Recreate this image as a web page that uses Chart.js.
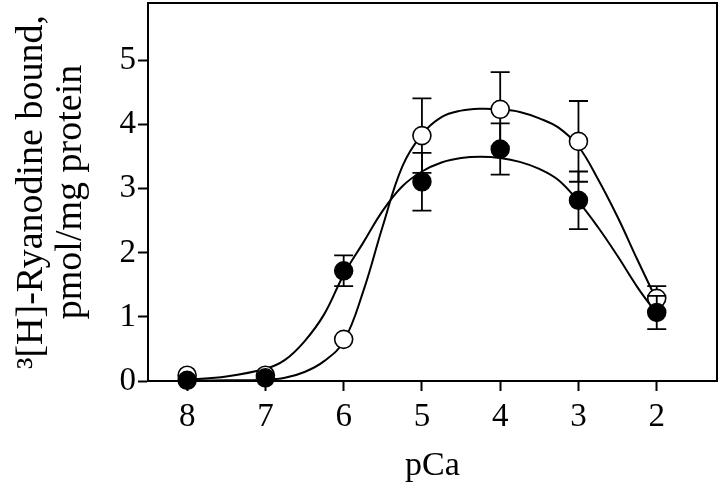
<!DOCTYPE html>
<html><head><meta charset="utf-8">
<script src="https://cdn.jsdelivr.net/npm/chart.js@4"></script>
<style>html,body{margin:0;padding:0;background:#fff}</style>
</head><body>
<canvas id="c" width="720" height="484"></canvas>
<script>
// ---- data ----
const xTickValues = [8, 7, 6, 5, 4, 3, 2];
const yTickValues = [0, 1, 2, 3, 4, 5];
const pCa = [8, 7, 6, 5, 4, 3, 2];
const openMean = [0.09, 0.09, 0.65, 3.83, 4.24, 3.74, 1.29];
const openErr = [0, 0, 0, 0.58, 0.58, 0.63, 0.19];
const filledMean = [0.01, 0.05, 1.72, 3.11, 3.62, 2.82, 1.07];
const filledErr = [0, 0, 0.24, 0.45, 0.40, 0.45, 0.26];
// fitted curves, values
const curvePCa = [8, 7.5, 7, 6.75, 6.5, 6.25, 6, 5.75, 5.5, 5.25, 5, 4.75, 4.5, 4.25, 4, 3.75, 3.5, 3.25, 3, 2.75, 2.5, 2.25, 2];
const openCurve = [0.01, 0.01, 0.02, 0.05, 0.14, 0.31, 0.62, 1.40, 2.42, 3.35, 3.85, 4.12, 4.22, 4.25, 4.24, 4.20, 4.10, 3.95, 3.66, 3.15, 2.56, 1.90, 1.26];
const filledCurve = [0.02, 0.07, 0.19, 0.33, 0.62, 1.04, 1.66, 2.16, 2.66, 3.04, 3.27, 3.41, 3.48, 3.50, 3.48, 3.42, 3.31, 3.13, 2.80, 2.40, 1.95, 1.47, 1.05];
const xTitle = 'pCa';
const yTitle = ['\u00B3[H]-Ryanodine bound,', 'pmol/mg protein'];

const FAMILY = "'Liberation Serif', 'Times New Roman', 'DejaVu Serif', serif";
const toXY = (xs, ys) => xs.map((x, i) => ({x: x, y: ys[i]}));

const errorBarPlugin = {
  id: 'errorBars',
  beforeDatasetDraw(chart, args) {
    const ds = chart.data.datasets[args.index];
    if (!ds.errors) return;
    const xs = chart.scales.x, ys = chart.scales.y, ctx = chart.ctx;
    ctx.save();
    ctx.strokeStyle = '#000';
    ctx.lineWidth = 1.8;
    ds.data.forEach((p, i) => {
      const e = ds.errors[i];
      if (!e) return;
      const px = xs.getPixelForValue(p.x);
      const y1 = ys.getPixelForValue(p.y + e);
      const y2 = ys.getPixelForValue(p.y - e);
      ctx.beginPath();
      ctx.moveTo(px, y1); ctx.lineTo(px, y2);
      ctx.moveTo(px - 9.5, y1); ctx.lineTo(px + 9.5, y1);
      ctx.moveTo(px - 9.5, y2); ctx.lineTo(px + 9.5, y2);
      ctx.stroke();
    });
    ctx.restore();
  }
};

const framePlugin = {
  id: 'frame',
  beforeDatasetsDraw(chart) {
    const a = chart.chartArea, ctx = chart.ctx;
    ctx.save();
    ctx.strokeStyle = '#000';
    ctx.lineWidth = 2;
    ctx.beginPath();
    ctx.moveTo(a.left, a.top); ctx.lineTo(a.right, a.top); ctx.lineTo(a.right, a.bottom);
    ctx.stroke();
    ctx.restore();
  }
};

const tickFont = {family: FAMILY, size: 33};
const noPad = s => { s.paddingTop = 0; s.paddingBottom = 0; s.paddingLeft = 0; s.paddingRight = 0; };

new Chart(document.getElementById('c'), {
  type: 'scatter',
  data: {
    datasets: [
      {
        label: 'filled', data: toXY(pCa, filledMean), errors: filledErr,
        pointRadius: 9, pointHoverRadius: 9, pointBackgroundColor: '#000', pointBorderColor: '#000', pointBorderWidth: 1.5,
        showLine: false, clip: false, order: 0
      },
      {
        label: 'open', data: toXY(pCa, openMean), errors: openErr,
        pointRadius: 9, pointHoverRadius: 9, pointBackgroundColor: '#fff', pointBorderColor: '#000', pointBorderWidth: 1.6,
        showLine: false, clip: false, order: 1
      },
      {
        label: 'filled fit', data: toXY(curvePCa, filledCurve), type: 'line',
        borderColor: '#000', borderWidth: 2, pointRadius: 0, fill: false,
        tension: 0.4, order: 2
      },
      {
        label: 'open fit', data: toXY(curvePCa, openCurve), type: 'line',
        borderColor: '#000', borderWidth: 2, pointRadius: 0, fill: false,
        tension: 0.4, order: 3
      }
    ]
  },
  options: {
    responsive: false, animation: false, devicePixelRatio: 1,
    layout: {autoPadding: false, padding: {left: 0, top: 3, right: 3, bottom: 0}},
    plugins: {legend: {display: false}, tooltip: {enabled: false}},
    scales: {
      x: {
        type: 'linear', reverse: true, min: 1.23, max: 8.5,
        afterBuildTicks: s => { s.ticks = xTickValues.map(v => ({value: v})); },
        afterFit: s => { s.height = 103; noPad(s); },
        ticks: {font: tickFont, color: '#000', padding: 7, maxRotation: 0, autoSkip: false},
        grid: {drawOnChartArea: false, drawTicks: true, tickLength: 10, tickWidth: 2, color: '#000'},
        border: {display: true, color: '#000', width: 2},
        title: {display: true, text: xTitle, color: '#000', font: {family: FAMILY, size: 34, lineHeight: 1}, padding: {top: 0, bottom: 1}}
      },
      y: {
        type: 'linear', min: 0, max: 5.9,
        afterBuildTicks: s => { s.ticks = yTickValues.map(v => ({value: v})); },
        afterFit: s => { s.width = 148; noPad(s); },
        ticks: {font: tickFont, color: '#000', padding: 2, autoSkip: false},
        grid: {drawOnChartArea: false, drawTicks: true, tickLength: 10, tickWidth: 2, color: '#000'},
        border: {display: true, color: '#000', width: 2},
        title: {display: true, text: yTitle, color: '#000', font: {family: FAMILY, size: 38, lineHeight: 1.02}, padding: {top: 13, bottom: 0}}
      }
    }
  },
  plugins: [errorBarPlugin, framePlugin]
});
</script>
</body></html>
